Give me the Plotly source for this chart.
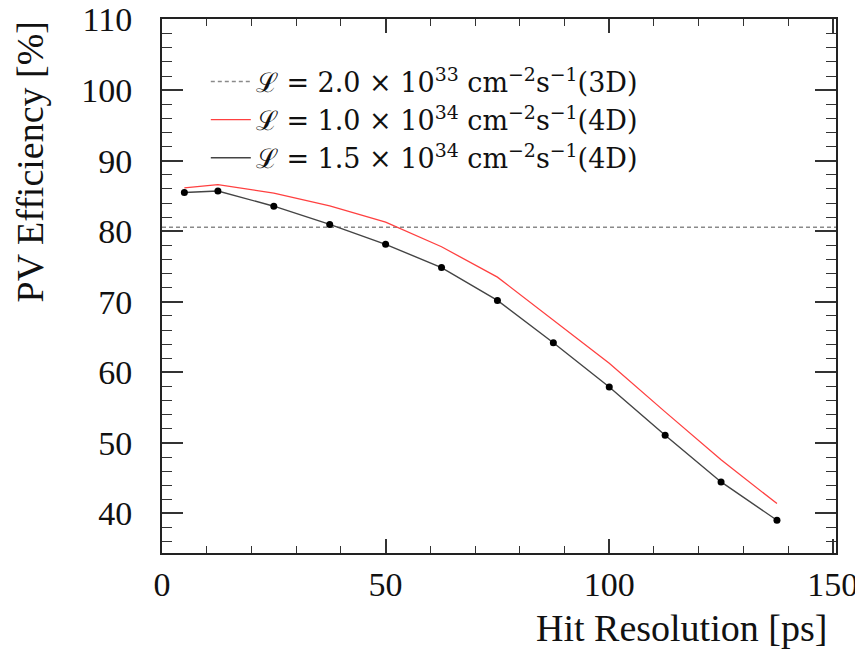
import plotly.graph_objects as go

# Data
hit_resolution = [5, 12.5, 25, 37.5, 50, 62.5, 75, 87.5, 100, 112.5, 125, 137.5]
eff_1p0e34_4d = [86.15, 86.6, 85.4, 83.6, 81.3, 77.8, 73.5, 67.4, 61.3, 54.4, 47.6, 41.4]
eff_1p5e34_4d = [85.5, 85.7, 83.55, 80.97, 78.14, 74.85, 70.2, 64.2, 57.93, 51.1, 44.47, 39.04]
eff_2p0e33_3d = 80.55

x_range = [0, 150.7]
y_range = [34.4, 110.08]
x_ticks = [0, 50, 100, 150]
y_ticks = [40, 50, 60, 70, 80, 90, 100, 110]

names = [
    "ℒ = 2.0 × 10<sup>33</sup> cm<sup>−2</sup>s<sup>−1</sup>(3D)",
    "ℒ = 1.0 × 10<sup>34</sup> cm<sup>−2</sup>s<sup>−1</sup>(4D)",
    "ℒ = 1.5 × 10<sup>34</sup> cm<sup>−2</sup>s<sup>−1</sup>(4D)",
]

FONT = "Liberation Serif, DejaVu Serif, serif"
LFONT = "DejaVu Serif, Liberation Serif, serif"

fig = go.Figure()
fig.add_trace(go.Scatter(
    x=x_range, y=[eff_2p0e33_3d, eff_2p0e33_3d], mode="lines", name=names[0],
    line=dict(color="#8a8a8a", width=1.5, dash="4px,3px"), hoverinfo="skip"))
fig.add_trace(go.Scatter(
    x=hit_resolution, y=eff_1p0e34_4d, mode="lines", name=names[1],
    line=dict(color="#ff4040", width=1.3)))
fig.add_trace(go.Scatter(
    x=hit_resolution, y=eff_1p5e34_4d, mode="lines", name=names[2],
    line=dict(color="#444444", width=1.4)))
fig.add_trace(go.Scatter(
    x=hit_resolution, y=eff_1p5e34_4d, mode="markers", showlegend=False,
    marker=dict(color="black", size=7)))

axis_common = dict(
    showgrid=False, zeroline=False, showline=True, linecolor="#222222", linewidth=2,
    mirror="ticks", ticks="inside", tickcolor="#333333", tickwidth=1.5,
    tickfont=dict(family=FONT, size=34, color="#111111"), automargin=False,
    ticklabeloverflow="allow",
)

fig.update_xaxes(range=x_range, tickvals=x_ticks, ticklen=14,
                 minor=dict(dtick=10, tick0=0, ticks="inside", ticklen=7, tickcolor="#333333", tickwidth=1.2),
                 ticklabelstandoff=0, **axis_common)
fig.update_yaxes(range=y_range, tickvals=y_ticks, ticklen=21,
                 minor=dict(dtick=2, tick0=0, ticks="inside", ticklen=10, tickcolor="#333333", tickwidth=1.2),
                 ticklabelstandoff=21, **axis_common)

fig.add_annotation(text="Hit Resolution [ps]", xref="paper", yref="paper", x=0.99, y=-0.14,
                   xanchor="right", yanchor="middle", showarrow=False,
                   font=dict(family=FONT, size=38, color="#111111"))
fig.add_annotation(text="PV Efficiency [%]", xref="paper", yref="paper", x=-0.196, y=1.0,
                   xanchor="center", yanchor="top", textangle=-90, showarrow=False,
                   font=dict(family=FONT, size=38, color="#111111"))

fig.update_layout(
    width=855, height=641,
    margin=dict(l=154, r=27, t=11, b=96, autoexpand=False),
    plot_bgcolor="white", paper_bgcolor="white",
    showlegend=True,
    legend=dict(x=0.065, y=0.928, xanchor="left", yanchor="top",
                bgcolor="rgba(0,0,0,0)", font=dict(family=LFONT, size=27, color="#111111"),
                itemwidth=40, tracegroupgap=0),
)

fig.write_html("out.html")
